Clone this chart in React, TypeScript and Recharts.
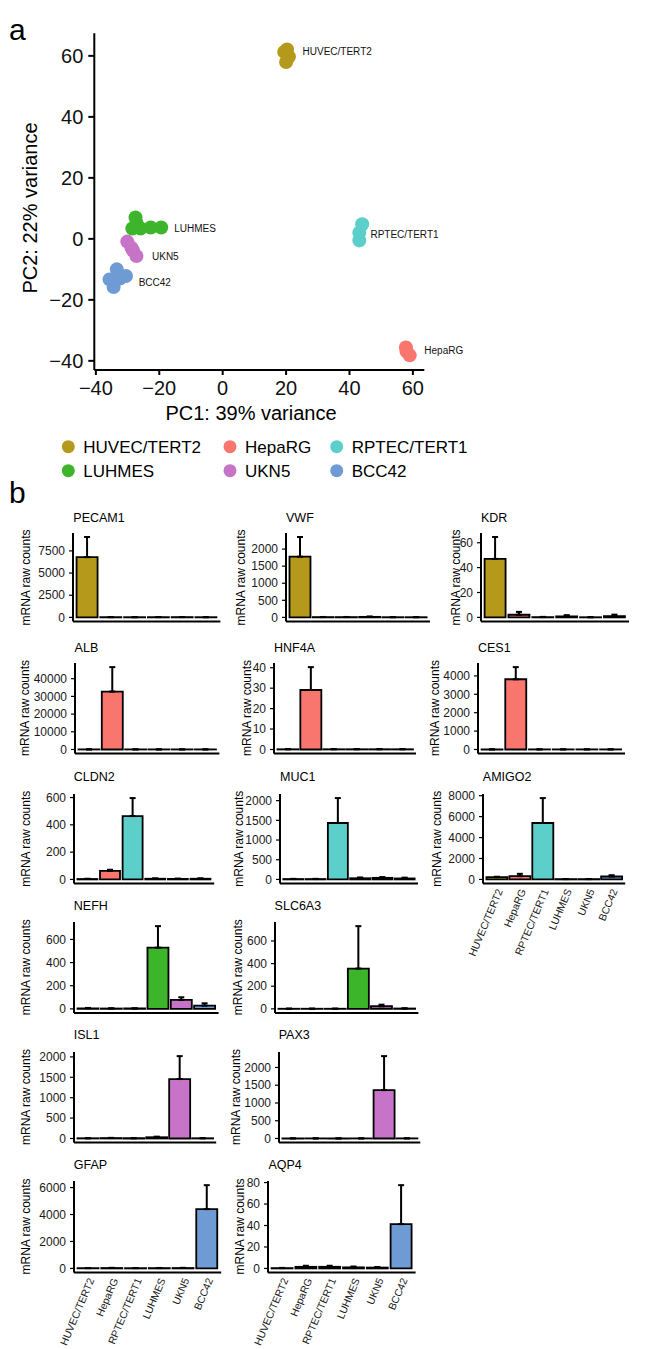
import React from 'react';
import { ScatterChart, Scatter, XAxis, YAxis, BarChart, Bar, Cell, ErrorBar } from 'recharts';

const FONT = '"Liberation Sans", Arial, Helvetica, sans-serif';

// ---------- categories & colours ----------
const cellLines = ['HUVEC/TERT2', 'HepaRG', 'RPTEC/TERT1', 'LUHMES', 'UKN5', 'BCC42'];
const cellColors = ['#B5991B', '#F8766D', '#5CCFCB', '#3DB52B', '#C774C8', '#6F9BD4'];

// ---------- panel a: PCA ----------
const huvecPC1 = [20.3, 19.4, 20.9, 20.0];
const huvecPC2 = [62.1, 61.3, 59.7, 58.0];
const hepargPC1 = [57.8, 58.0, 59.0];
const hepargPC2 = [-35.6, -36.9, -38.2];
const rptecPC1 = [44.0, 43.1, 43.1];
const rptecPC2 = [4.8, 2.0, -0.5];
const luhmesPC1 = [-27.5, -27.2, -28.5, -25.9, -22.7, -19.4];
const luhmesPC2 = [7.0, 5.3, 3.4, 3.4, 3.7, 3.7];
const ukn5PC1 = [-30.1, -28.8, -28.3, -27.2];
const ukn5PC2 = [-0.9, -2.9, -3.8, -5.6];
const bcc42PC1 = [-33.4, -30.5, -32.4, -35.7, -34.4];
const bcc42PC2 = [-10.0, -12.2, -13.0, -13.3, -15.8];

const labelPC1 = [25.2, 63.6, 46.6, -15.3, -22.3, -26.5];
const labelPC2 = [61.5, -36.6, 1.5, 3.5, -5.8, -14.2];

const pcaXTicks = [-40, -20, 0, 20, 40, 60];
const pcaYTicks = [-40, -20, 0, 20, 40, 60];

// ---------- panel b: mRNA raw counts (mean, sd) in cellLines order ----------
const pecam1Mean = [6795, 25, 20, 25, 30, 20];
const pecam1Sd = [2270, 10, 8, 15, 15, 10];
const vwfMean = [1776, 8, 8, 15, 5, 5];
const vwfSd = [577, 4, 4, 10, 3, 3];
const kdrMean = [47, 2.1, 0.2, 0.8, 0.1, 1.0];
const kdrSd = [17.6, 2.3, 0.2, 1.0, 0.1, 1.2];
const albMean = [50, 32737, 40, 40, 40, 40];
const albSd = [30, 13800, 20, 20, 20, 20];
const hnf4aMean = [0.1, 29.1, 0.1, 0.1, 0.1, 0.1];
const hnf4aSd = [0.1, 11.2, 0.1, 0.1, 0.1, 0.1];
const ces1Mean = [5, 3817, 5, 5, 5, 5];
const ces1Sd = [3, 661, 3, 3, 3, 3];
const cldn2Mean = [3, 63, 464, 5, 4, 5];
const cldn2Sd = [2, 8, 132, 3, 2, 3];
const muc1Mean = [10, 10, 1432, 30, 40, 25];
const muc1Sd = [5, 5, 633, 20, 20, 20];
const amigo2Mean = [216, 310, 5393, 30, 30, 282];
const amigo2Sd = [40, 226, 2381, 10, 10, 123];
const nefhMean = [5, 3, 3, 529, 77, 28];
const nefhSd = [3, 2, 2, 186, 23, 20];
const slc6a3Mean = [1, 1, 1, 356, 23, 3];
const slc6a3Sd = [1, 1, 1, 375, 14, 2];
const isl1Mean = [5, 10, 5, 30, 1457, 5];
const isl1Sd = [3, 5, 3, 15, 562, 3];
const pax3Mean = [2, 2, 2, 2, 1362, 3];
const pax3Sd = [2, 2, 2, 2, 958, 2];
const gfapMean = [20, 30, 20, 25, 30, 4400];
const gfapSd = [10, 15, 10, 10, 15, 1778];
const aqp4Mean = [0.3, 1.5, 1.5, 1.0, 0.8, 41.3];
const aqp4Sd = [0.2, 1.0, 1.0, 0.8, 0.5, 36.3];

const pecam1Ticks = [0, 2500, 5000, 7500];
const vwfTicks = [0, 500, 1000, 1500, 2000];
const kdrTicks = [0, 20, 40, 60];
const albTicks = [0, 10000, 20000, 30000, 40000];
const hnf4aTicks = [0, 10, 20, 30, 40];
const ces1Ticks = [0, 1000, 2000, 3000, 4000];
const cldn2Ticks = [0, 200, 400, 600];
const muc1Ticks = [0, 500, 1000, 1500, 2000];
const amigo2Ticks = [0, 2000, 4000, 6000, 8000];
const nefhTicks = [0, 200, 400, 600];
const slc6a3Ticks = [0, 200, 400, 600];
const isl1Ticks = [0, 500, 1000, 1500, 2000];
const pax3Ticks = [0, 500, 1000, 1500, 2000];
const gfapTicks = [0, 2000, 4000, 6000];
const aqp4Ticks = [0, 20, 40, 60, 80];

// ---------- layout (page px): [axisX, axisEndX, panelTop, axisY, titleY, yTitleX] ----------
const genes = [
  { name: 'PECAM1', mean: pecam1Mean, sd: pecam1Sd, ticks: pecam1Ticks, box: [73.3, 220.7, 533.3, 621.7, 517.7, 26] },
  { name: 'VWF', mean: vwfMean, sd: vwfSd, ticks: vwfTicks, box: [286, 430, 533.3, 621.7, 517.7, 241] },
  { name: 'KDR', mean: kdrMean, sd: kdrSd, ticks: kdrTicks, box: [481, 629, 533.3, 621.7, 517.7, 456] },
  { name: 'ALB', mean: albMean, sd: albSd, ticks: albTicks, box: [74.6, 219, 662.7, 753.3, 647.3, 25] },
  { name: 'HNF4A', mean: hnf4aMean, sd: hnf4aSd, ticks: hnf4aTicks, box: [274, 416, 662.7, 753.3, 647.3, 247] },
  { name: 'CES1', mean: ces1Mean, sd: ces1Sd, ticks: ces1Ticks, box: [478, 625, 662.7, 753.3, 647.3, 435] },
  { name: 'CLDN2', mean: cldn2Mean, sd: cldn2Sd, ticks: cldn2Ticks, box: [73.8, 214, 794, 883.5, 776.7, 26] },
  { name: 'MUC1', mean: muc1Mean, sd: muc1Sd, ticks: muc1Ticks, box: [280, 418, 794, 883.5, 776.7, 239] },
  { name: 'AMIGO2', mean: amigo2Mean, sd: amigo2Sd, ticks: amigo2Ticks, box: [482.8, 625, 794, 883.5, 776.7, 437], showX: true },
  { name: 'NEFH', mean: nefhMean, sd: nefhSd, ticks: nefhTicks, box: [73.8, 218.4, 921.7, 1012.7, 906, 26] },
  { name: 'SLC6A3', mean: slc6a3Mean, sd: slc6a3Sd, ticks: slc6a3Ticks, box: [274.6, 418, 921.7, 1012.7, 906, 238] },
  { name: 'ISL1', mean: isl1Mean, sd: isl1Sd, ticks: isl1Ticks, box: [73.8, 216, 1051.7, 1142.3, 1035, 26] },
  { name: 'PAX3', mean: pax3Mean, sd: pax3Sd, ticks: pax3Ticks, box: [278.7, 420, 1051.7, 1142.3, 1035, 236] },
  { name: 'GFAP', mean: gfapMean, sd: gfapSd, ticks: gfapTicks, box: [73.8, 221, 1180.7, 1272.3, 1165, 26], showX: true },
  { name: 'AQP4', mean: aqp4Mean, sd: aqp4Sd, ticks: aqp4Ticks, box: [268.4, 416, 1180.7, 1272.3, 1165, 240], showX: true },
];

const minus = (v: number) => String(v).replace('-', '\u2212');

const RotTick = (props: any) => {
  const { x, y, payload } = props;
  return (
    <text x={x + 3} y={y} transform={`rotate(-67, ${x + 3}, ${y})`} textAnchor="end" dy="0.35em"
      fontSize={10.4} fontFamily={FONT} fill="#1a1a1a">{payload.value}</text>
  );
};

function GeneChart({ g }: { g: any }) {
  const [ax, ex, ty, by] = g.box;
  const maxV = Math.max(...g.mean.map((m: number, i: number) => m + g.sd[i]));
  const domain = [-0.05 * maxV, 1.05 * maxV];
  const LW = 60, TP = 8, RP = 4;
  const BH = g.showX ? 90 : 12;
  const pw = ex - ax;
  const pad = (pw * 0.1) / 6.2;
  const data = cellLines.map((c, i) => ({ name: c, value: g.mean[i], err: [0, g.sd[i]] }));
  const w = pw + LW + RP;
  const h = by - ty + TP + BH;
  return (
    <div style={{ position: 'absolute', left: ax - LW, top: ty - TP, width: w, height: h }}>
      <BarChart width={w} height={h} data={data} margin={{ top: TP, right: RP, left: 0, bottom: 0 }} barCategoryGap="5%">
        <XAxis dataKey="name" height={BH} padding={{ left: pad, right: pad }}
          axisLine={{ stroke: '#000', strokeWidth: 2 }} tickLine={false} tickSize={3} tickMargin={3}
          tick={g.showX ? <RotTick /> : false} interval={0} />
        <YAxis width={LW} type="number" domain={domain} ticks={g.ticks} interval={0}
          axisLine={{ stroke: '#000', strokeWidth: 2 }} tickLine={{ stroke: '#000', strokeWidth: 1.2 }}
          tickSize={4} tickMargin={4}
          tick={{ fontSize: 12, fill: '#1a1a1a', fontFamily: FONT }} />
        <Bar dataKey="value" isAnimationActive={false} stroke="#000" strokeWidth={1.8}>
          {data.map((d, i) => <Cell key={d.name} fill={cellColors[i]} />)}
          <ErrorBar dataKey="err" width={3} stroke="#000" strokeWidth={2} direction="y" isAnimationActive={false} />
        </Bar>
      </BarChart>
    </div>
  );
}

const groups = [
  { pc1: huvecPC1, pc2: huvecPC2 },
  { pc1: hepargPC1, pc2: hepargPC2 },
  { pc1: rptecPC1, pc2: rptecPC2 },
  { pc1: luhmesPC1, pc2: luhmesPC2 },
  { pc1: ukn5PC1, pc2: ukn5PC2 },
  { pc1: bcc42PC1, pc2: bcc42PC2 },
];

const labelData = cellLines.map((c, i) => ({ x: labelPC1[i], y: labelPC2[i], label: c }));

const LabelShape = (props: any) => (
  <text x={props.cx} y={props.cy} dy="0.35em" fontSize={10} fontFamily={FONT} fill="#111">{props.payload.label}</text>
);

function PCAChart() {
  const W = 646, H = 430;
  return (
    <div style={{ position: 'absolute', left: 0, top: 0, width: W, height: H }}>
      <ScatterChart width={W} height={H} margin={{ top: 33.3, right: W - 424.3, bottom: H - 370 - 40, left: 0 }}>
        <XAxis type="number" dataKey="x" domain={[-40.5, 63.6]} ticks={pcaXTicks} height={40} interval={0}
          axisLine={{ stroke: '#000', strokeWidth: 2 }} tickLine={{ stroke: '#000', strokeWidth: 2 }}
          tickSize={5} tickMargin={6} tickFormatter={minus}
          tick={{ fontSize: 20, fill: '#111', fontFamily: FONT }} />
        <YAxis type="number" dataKey="y" domain={[-43, 67.4]} ticks={pcaYTicks} width={94.3} interval={0}
          axisLine={{ stroke: '#000', strokeWidth: 2 }} tickLine={{ stroke: '#000', strokeWidth: 2 }}
          tickSize={6} tickMargin={5} tickFormatter={minus}
          tick={{ fontSize: 20, fill: '#111', fontFamily: FONT }} />
        {groups.map((gr, gi) => (
          <Scatter key={cellLines[gi]} name={cellLines[gi]} isAnimationActive={false}
            data={gr.pc1.map((v, i) => ({ x: v, y: gr.pc2[i] }))}
            fill={cellColors[gi]}
            shape={(p: any) => <circle cx={p.cx} cy={p.cy} r={7} fill={cellColors[gi]} />} />
        ))}
        <Scatter name="labels" data={labelData} isAnimationActive={false} shape={LabelShape} />
      </ScatterChart>
    </div>
  );
}

const legendPos = [
  [68.3, 446.7], [230, 446.7], [336.7, 446.7],
  [68.3, 470.7], [230, 470.7], [336.7, 470.7],
];

function Overlay() {
  return (
    <svg width={646} height={1349} style={{ position: 'absolute', left: 0, top: 0, pointerEvents: 'none' }}>
      <g fontFamily={FONT} fill="#000">
        <text x={9} y={40} fontSize={30}>a</text>
        <text x={9} y={503} fontSize={30}>b</text>
        <text x={251} y={413} dy="0.35em" fontSize={20} textAnchor="middle">PC1: 39% variance</text>
        <text transform="translate(30,208) rotate(-90)" dy="0.35em" fontSize={20} textAnchor="middle">PC2: 22% variance</text>
        {legendPos.map(([x, y], i) => (
          <g key={cellLines[i]}>
            <circle cx={x} cy={y} r={6.5} fill={cellColors[i]} />
            <text x={x + 15} y={y} dy="0.35em" fontSize={17}>{cellLines[i]}</text>
          </g>
        ))}
        {genes.map((g) => {
          const [ax, , ty, by, tY, tX] = g.box;
          const cy = (ty + by) / 2;
          return (
            <g key={g.name}>
              <text x={ax} y={tY} dy="0.35em" fontSize={12.5}>{g.name}</text>
              <text transform={`translate(${tX},${cy}) rotate(-90)`} dy="0.35em" fontSize={12} textAnchor="middle">mRNA raw counts</text>
            </g>
          );
        })}
      </g>
    </svg>
  );
}

export default function App() {
  return (
    <div style={{ position: 'absolute', left: 0, top: 0, width: 646, height: 1349, background: '#fff', fontFamily: FONT, overflow: 'hidden' }}>
      <PCAChart />
      {genes.map((g) => <GeneChart key={g.name} g={g} />)}
      <Overlay />
    </div>
  );
}
